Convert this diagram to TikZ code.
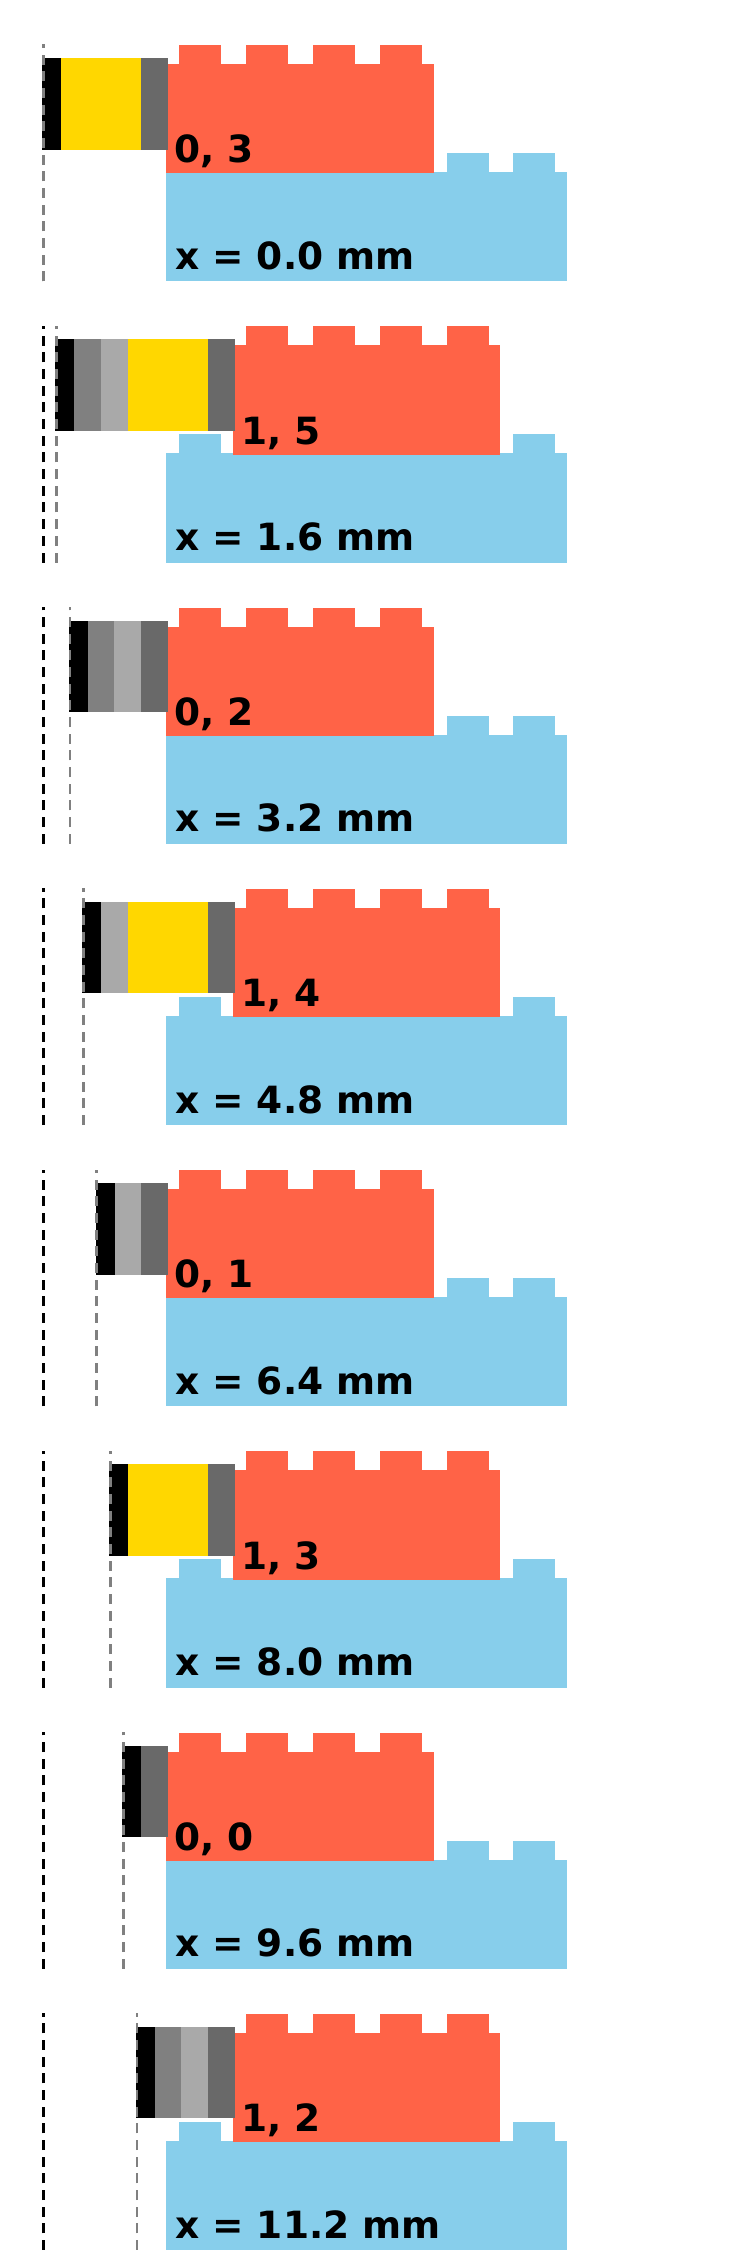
\documentclass[tikz,border=0pt]{standalone}
\usepackage{fontspec}
\setmainfont{DejaVu Sans}
\definecolor{brickred}{HTML}{FF6347}
\definecolor{brickblue}{HTML}{87CEEB}
\definecolor{layyellow}{HTML}{FFD700}
\definecolor{laydark}{HTML}{696969}
\definecolor{laygrey}{HTML}{808080}
\definecolor{laylight}{HTML}{A9A9A9}
\tikzset{
  lbl/.style={anchor=base west, inner sep=0pt, font=\fontsize{37.5}{42}\selectfont\bfseries},
  refline/.style={draw=black, line width=2.8pt, dash pattern=on 10pt off 6.67pt},
  posline/.style={draw=laygrey, line width=2.8pt, dash pattern=on 10pt off 6.67pt},
}
\newcommand\legopanel[7]{%
  \begin{scope}[yshift={-281.25*#1}]
    \pgfmathsetmacro\xl{42+13.38*#1}
    \pgfmathsetmacro\bx{165.9+66.9*#2}
    % blue brick
    \fill[brickblue] (165.9,172) rectangle (567.4,281.25);
    \foreach \k in {0,...,5}{\fill[brickblue] ({165.9+13+66.9*\k},153) rectangle ++(42,19.5);}
    % red brick
    \fill[brickred] (\bx,64) rectangle ++(267.6,109.3);
    \foreach \k in {0,...,3}{\fill[brickred] ({\bx+13+66.9*\k},45) rectangle ++(42,19.5);}
    % layer stack
    \fill[black] (\xl,58) rectangle ++(19,91.7);
    \pgfmathsetmacro\cx{\xl+19}
    \ifnum#3=1 \fill[laygrey] (\cx,58) rectangle ++(26.7,91.7); \pgfmathsetmacro\cx{\cx+26.7}\fi
    \ifnum#4=1 \fill[laylight] (\cx,58) rectangle ++(26.7,91.7); \pgfmathsetmacro\cx{\cx+26.7}\fi
    \ifnum#5=1 \fill[layyellow] (\cx,58) rectangle ++(80.1,91.7); \pgfmathsetmacro\cx{\cx+80.1}\fi
    \fill[laydark] (\cx,58) rectangle ++(26.7,91.7);
    % dashed reference lines
    \draw[refline] (43.3,281.25) -- (43.3,44.5);
    \draw[posline] ({\xl+1.3},281.25) -- ({\xl+1.3},44.5);
    % labels
    \node[lbl] (lab#1) at ({\bx+8.1},162.9) {#2, #6};
    \node[lbl] (pos#1) at (175,269.3) {x = #7 mm};
  \end{scope}}
\begin{document}
\begin{tikzpicture}[x=1pt,y=-1pt]
\fill[white] (0,0) rectangle (750,2250);
\useasboundingbox (0,0) rectangle (750,2250);
\legopanel{0}{0}{0}{0}{1}{3}{0.0}
\legopanel{1}{1}{1}{1}{1}{5}{1.6}
\legopanel{2}{0}{1}{1}{0}{2}{3.2}
\legopanel{3}{1}{0}{1}{1}{4}{4.8}
\legopanel{4}{0}{0}{1}{0}{1}{6.4}
\legopanel{5}{1}{0}{0}{1}{3}{8.0}
\legopanel{6}{0}{0}{0}{0}{0}{9.6}
\legopanel{7}{1}{1}{1}{0}{2}{11.2}
\end{tikzpicture}
\end{document}
